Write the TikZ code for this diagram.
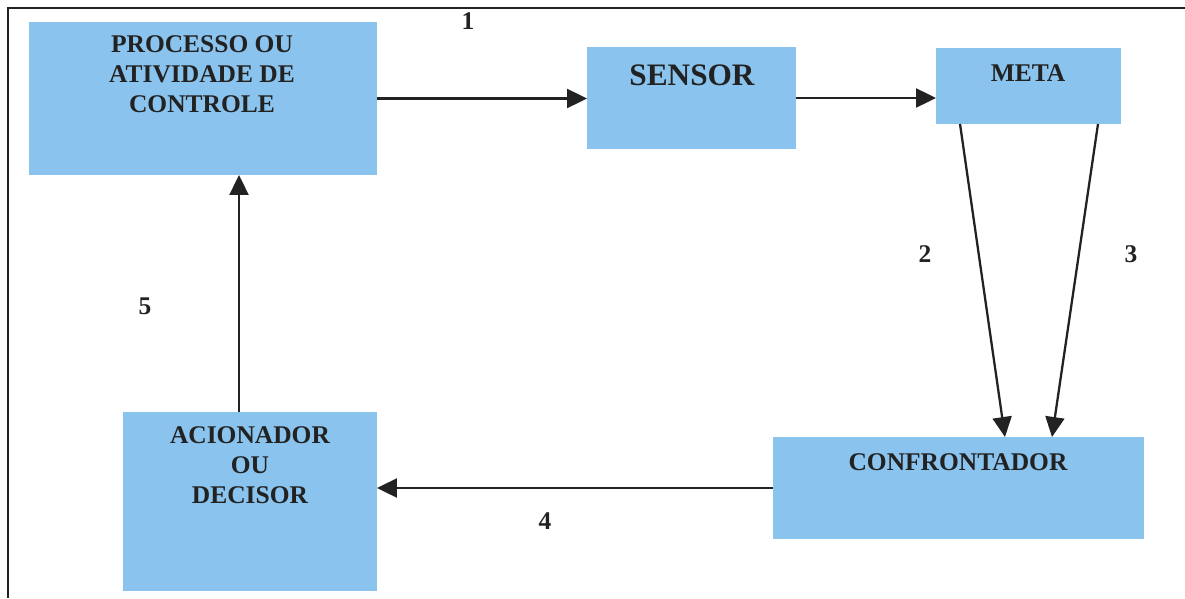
\documentclass[tikz,border=0pt]{standalone}
\usepackage{fontspec}
\setmainfont{Liberation Serif}
\usetikzlibrary{arrows.meta}
\definecolor{boxblue}{RGB}{138,196,238}
\definecolor{ink}{RGB}{34,34,34}
\tikzset{
  box/.style={rectangle, fill=boxblue, draw=none, inner sep=0pt, outer sep=0pt},
  lbl/.style={font=\fontsize{14.5}{17}\selectfont\bfseries, text=ink, align=center, inner sep=0pt},
  num/.style={font=\fontsize{14.5}{17}\selectfont\bfseries, text=ink, inner sep=0pt},
  conn/.style={draw=ink, line width=1.3pt, -{Triangle[length=0.4cm, width=0.38cm]}},
  frame/.style={draw=ink, line width=1.1pt}
}
\begin{document}
\begin{tikzpicture}[x=0.02cm, y=-0.02cm]
\useasboundingbox (0,0) rectangle (1185,598);
\coordinate (ftr) at (1185,8);
\coordinate (ftl) at (8,8);
\coordinate (fbl) at (8,598);
\draw[frame] (ftr) -- (ftl) -- (fbl);

\node[box, minimum width=6.96cm, minimum height=3.06cm] (proc) at (203,98.5) {};
\node[box, minimum width=4.18cm, minimum height=2.04cm] (sens) at (691.5,98) {};
\node[box, minimum width=3.70cm, minimum height=1.52cm] (meta) at (1028.5,86) {};
\node[box, minimum width=7.42cm, minimum height=2.04cm] (conf) at (958.5,488) {};
\node[box, minimum width=5.08cm, minimum height=3.58cm] (acio) at (250,501.5) {};

\node[lbl] (tproc) at (202,74) {PROCESSO OU\\ATIVIDADE DE\\CONTROLE};
\node[lbl, font=\fontsize{17.8}{20}\selectfont\bfseries] (tsens) at (692,75) {SENSOR};
\node[lbl] (tmeta) at (1028,73) {META};
\node[lbl] (tconf) at (958,462) {CONFRONTADOR};
\node[lbl] (tacio) at (250,465) {ACIONADOR\\OU\\DECISOR};

\node[num] (n1) at (468,21) {1};
\node[num] (n2) at (925,254) {2};
\node[num] (n3) at (1131,254) {3};
\node[num] (n4) at (545,521) {4};
\node[num] (n5) at (145,306) {5};

\draw[conn] (proc.east) -- (proc.east -| sens.west);
\draw[conn] (sens.east) -- (sens.east -| meta.west);
\draw[conn] ([xshift=0.48cm]meta.south west) -- ([xshift=4.64cm]conf.north west);
\draw[conn] ([xshift=3.24cm]meta.south west) -- ([xshift=5.58cm]conf.north west);
\draw[conn] (conf.west) -- (conf.west -| acio.east);
\draw[conn] ([xshift=-0.22cm]acio.north) -- ([xshift=-0.22cm]acio.north |- proc.south);
\end{tikzpicture}
\end{document}
